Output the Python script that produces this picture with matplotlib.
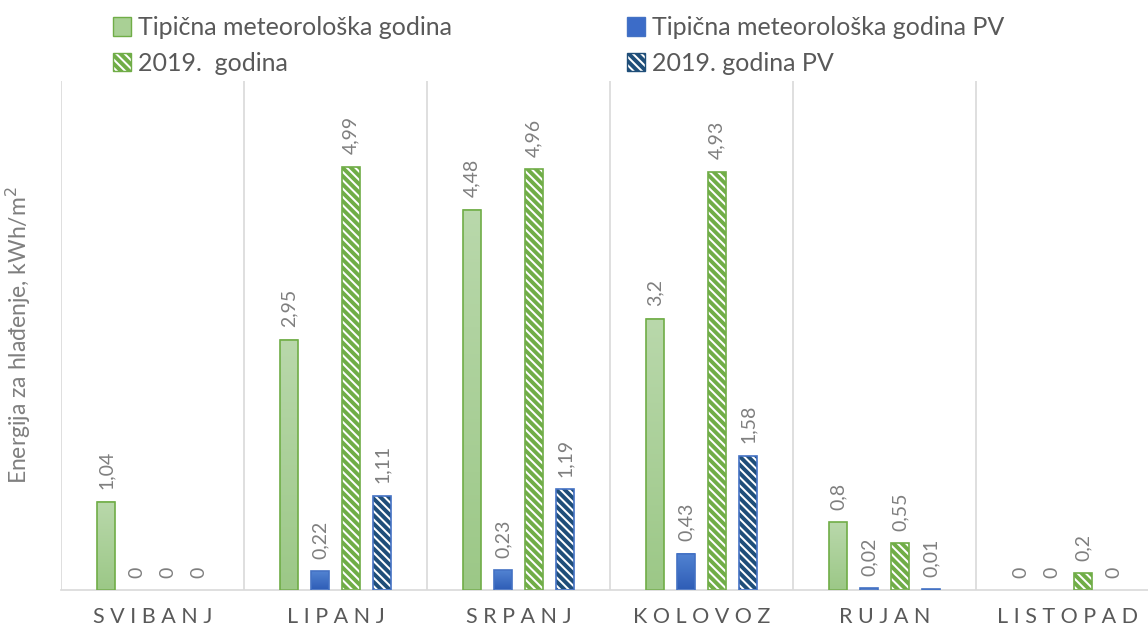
import numpy as np
import matplotlib
matplotlib.use("Agg")
import matplotlib.pyplot as plt
from matplotlib.colors import LinearSegmentedColormap
from matplotlib.patches import Patch

plt.rcParams['font.family'] = ['Lato', 'DejaVu Sans']
plt.rcParams['hatch.linewidth'] = 2.8

months = ['SVIBANJ', 'LIPANJ', 'SRPANJ', 'KOLOVOZ', 'RUJAN', 'LISTOPAD']
tmy = [1.04, 2.95, 4.48, 3.2, 0.8, 0]
tmy_pv = [0, 0.22, 0.23, 0.43, 0.02, 0]
y2019 = [0, 4.99, 4.96, 4.93, 0.55, 0.2]
y2019_pv = [0, 1.11, 1.19, 1.58, 0.01, 0]

names = ['Tipična meteorološka godina', 'Tipična meteorološka godina PV',
         '2019.  godina', '2019. godina PV']

green = '#70ad47'
blue = '#4472c4'
darkblue = '#1f4e79'
grey = '#595959'
lblgrey = '#7f7f7f'
gridc = '#d9d9d9'

green_cm = LinearSegmentedColormap.from_list('g', ['#9cc887', '#b9d8ab'])
blue_cm = LinearSegmentedColormap.from_list('b', ['#2e5db6', '#5283d2'])

fig = plt.figure(figsize=(11.48, 6.37), dpi=100)
ax = fig.add_axes([61 / 1148, 47 / 637, 1098 / 1148, 509 / 637])

x = np.arange(len(months))
step = 0.1694
width = 0.093
offsets = [-1.5 * step, -0.5 * step, 0.5 * step, 1.5 * step]


def gradient_bars(xs, vals, cmap, edge):
    grad = np.linspace(0, 1, 100).reshape(-1, 1)
    for xi, v in zip(xs, vals):
        if v <= 0:
            continue
        ax.imshow(grad, extent=[xi - width / 2, xi + width / 2, 0, v],
                  origin='lower', aspect='auto', cmap=cmap, zorder=2)
        ax.bar(xi, v, width, fill=False, edgecolor=edge, linewidth=1.2, zorder=3)


def hatched_bars(xs, vals, hatchc, edge):
    ax.bar(xs, vals, width, color='white', edgecolor=hatchc, hatch='\\\\\\\\',
           linewidth=0, zorder=2)
    for xi, v in zip(xs, vals):
        if v > 0:
            ax.bar(xi, v, width, fill=False, edgecolor=edge, linewidth=1.2, zorder=3)


gradient_bars(x + offsets[0], tmy, green_cm, green)
gradient_bars(x + offsets[1], tmy_pv, blue_cm, blue)
hatched_bars(x + offsets[2], y2019, green, green)
hatched_bars(x + offsets[3], y2019_pv, darkblue, blue)

# value labels above every bar
for off, vals in zip(offsets, [tmy, tmy_pv, y2019, y2019_pv]):
    for xi, v in zip(x + off, vals):
        ax.annotate(f'{v:g}'.replace('.', ','), (xi, v), xytext=(0, 9),
                    textcoords='offset points', rotation=90, ha='center',
                    va='bottom', fontsize=14, color=lblgrey)

ax.set_xlim(-0.5, len(months) - 0.5)
ax.set_ylim(0, 6)
ax.set_yticks([])
for b in np.arange(-0.5, len(months), 1.0):
    ax.axvline(b, color=gridc, linewidth=1.2, zorder=1)
ax.set_xticks(x)
ax.set_xticklabels([' '.join(m) for m in months], fontsize=15.5, color=grey)
ax.tick_params(axis='x', length=0, pad=12)
for s in ['top', 'right', 'left']:
    ax.spines[s].set_visible(False)
ax.spines['bottom'].set_color(gridc)
ax.spines['bottom'].set_linewidth(1.2)

fig.text(18 / 1148, 1 - 335 / 637, 'Energija za hlađenje, kWh/m$^2$', rotation=90,
         ha='center', va='center', fontsize=16.5, color=lblgrey)

h_tmy = Patch(facecolor='#a9d095', edgecolor=green)
h_tmy_pv = Patch(facecolor='#3c6cc8', edgecolor=blue)
h_19 = Patch(facecolor='white', edgecolor=green, hatch='\\\\\\\\')
h_19_pv = Patch(facecolor='white', edgecolor=darkblue, hatch='\\\\\\\\')
fig.legend([h_tmy, h_19, h_tmy_pv, h_19_pv], [names[0], names[2], names[1], names[3]],
           ncol=2, loc='upper left', bbox_to_anchor=(90 / 1148, 1.01),
           frameon=False, fontsize=18, labelcolor=grey, handlelength=0.75,
           handleheight=0.75, handletextpad=0.25, columnspacing=7.0, labelspacing=0.5)

fig.savefig('out.png', dpi=100)
